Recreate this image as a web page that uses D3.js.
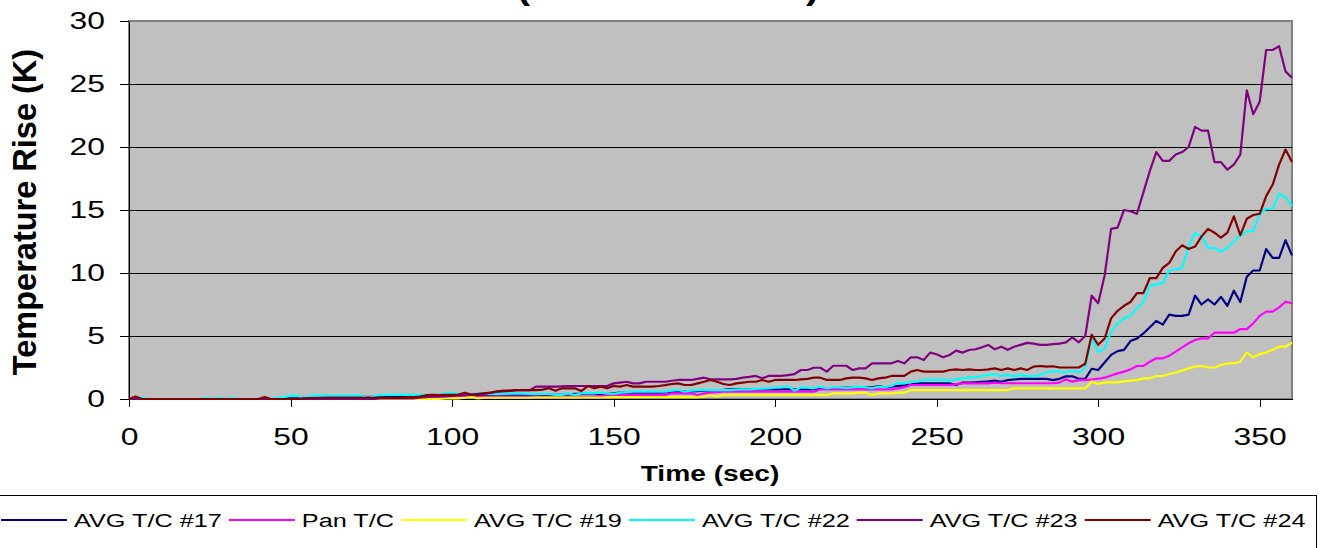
<!DOCTYPE html>
<html>
<head>
<meta charset="utf-8">
<script src="https://cdn.jsdelivr.net/npm/d3@7"></script>
<style>
    body { margin: 0; background: #fff; }
    svg { display: block; }
    text { font-family: "Liberation Sans", Arial, sans-serif; fill: #000; }
</style>
</head>
<body>
<svg id="chart" width="1321" height="548"></svg>
<script>

// sample times (sec), one reading every 2 s
var times = d3.range(0, 361, 2);

var xTicks = [0, 50, 100, 150, 200, 250, 300, 350];
var yTicks = [0, 5, 10, 15, 20, 25, 30];

var seriesNames = ["AVG T/C #17", "Pan T/C", "AVG T/C #19", "AVG T/C #22", "AVG T/C #23", "AVG T/C #24"];
var seriesColors = ["#000080", "#ff00ff", "#ffff00", "#00ffff", "#800080", "#800000"];

// temperature rise (K), rows of 10 readings = 20 s each
var tc17 = [
    0,0,0,0,0,0,0,0,0,0,
    0,0,0,0,0,0,0,0,0,0,
    0,0,0,0,0.05,0.05,0.05,0.1,0.1,0.1,
    0.15,0.15,0.15,0.2,0.2,0.2,0.2,0.15,0.2,0.2,
    0.2,0.2,0.2,0.2,0.2,0.2,0.25,0.25,0.25,0.25,
    0.25,0.25,0.3,0.3,0.3,0.3,0.3,0.3,0.3,0.3,
    0.3,0.3,0.3,0.3,0.3,0.32,0.32,0.32,0.35,0.4,
    0.4,0.4,0.4,0.4,0.4,0.45,0.5,0.5,0.5,0.5,
    0.5,0.5,0.5,0.52,0.55,0.58,0.58,0.6,0.62,0.66,
    0.66,0.7,0.72,0.77,0.77,0.77,0.77,0.77,0.77,0.77,
    0.77,0.77,0.77,0.77,0.77,0.77,0.77,0.8,0.82,0.85,
    0.88,0.9,0.93,0.93,0.93,0.93,1.03,0.93,0.98,1.03,
    1.08,1.15,1.24,1.24,1.24,1.24,1.24,1.24,1.11,1.3,
    1.3,1.33,1.37,1.4,1.46,1.37,1.5,1.55,1.6,1.6,
    1.6,1.6,1.6,1.5,1.6,1.8,1.8,1.6,1.6,2.4,
    2.3,2.9,3.5,3.8,3.9,4.6,4.8,5.2,5.7,6.2,
    5.9,6.7,6.6,6.6,6.7,8.2,7.5,7.9,7.5,8.1,
    7.4,8.6,7.7,9.7,10.2,10.2,11.9,11.2,11.2,12.6,
    11.4
];
var panTC = [
    0,0,0,0,0,0,0,0,0,0,
    0,0,0,0,0,0,0,0,0,0,
    0,0,0,0,0,0,0,0,0,0,
    0,0,0,0,0,0,0,0,0,0,
    0,0,0,0,0.05,0.1,0.1,0.15,0.15,0.15,
    0.2,0.2,0.2,0.2,0.2,0.2,0.2,0.2,0.2,0.2,
    0.2,0.2,0.2,0.2,0.2,0.2,0.2,0.2,0.2,0.2,
    0.2,0.2,0.2,0.25,0.3,0.32,0.32,0.32,0.32,0.32,
    0.32,0.32,0.32,0.32,0.45,0.45,0.45,0.45,0.32,0.45,
    0.5,0.55,0.58,0.58,0.58,0.58,0.58,0.58,0.58,0.58,
    0.58,0.58,0.58,0.58,0.58,0.58,0.58,0.77,0.77,0.77,
    0.77,0.77,0.77,0.77,0.77,0.77,0.77,0.77,0.77,0.85,
    0.93,1.11,1.11,1.11,1.11,1.11,1.11,1.11,1.18,1.24,
    1.24,1.24,1.24,1.24,1.3,1.25,1.25,1.25,1.25,1.25,
    1.25,1.25,1.25,1.25,1.3,1.56,1.38,1.5,1.5,1.55,
    1.61,1.69,1.87,2.03,2.17,2.35,2.62,2.62,2.96,3.23,
    3.23,3.44,3.76,4.1,4.42,4.68,4.81,4.81,5.26,5.26,
    5.26,5.26,5.55,5.55,6.0,6.6,6.93,6.93,7.27,7.72,
    7.6
];
var tc19 = [
    0,0,0,0,0,0,0,0,0,0,
    0,0,0,0,0,0,0,0,0,0,
    0,0.1,0,0,0,0,0,0,0,0,
    0,0,0,0.05,0.05,0.05,0,0,0,0,
    0,0,0,0,0,0,0,0,0,0.05,
    0.05,0.05,0.1,0.15,0.05,0.1,0.1,0.1,0.1,0.1,
    0.1,0.1,0.1,0.12,0.12,0.12,0.12,0.12,0.12,0.12,
    0.12,0.12,0.12,0.12,0.12,0.15,0.15,0.15,0.15,0.15,
    0.15,0.15,0.15,0.15,0.15,0.15,0.15,0.15,0.15,0.2,
    0.32,0.2,0.32,0.32,0.32,0.32,0.32,0.32,0.32,0.32,
    0.32,0.32,0.32,0.32,0.32,0.32,0.32,0.32,0.32,0.45,
    0.45,0.45,0.45,0.5,0.5,0.32,0.45,0.45,0.45,0.5,
    0.5,0.71,0.71,0.71,0.71,0.71,0.71,0.71,0.71,0.71,
    0.71,0.71,0.71,0.71,0.71,0.71,0.71,0.85,0.85,0.85,
    0.85,0.85,0.85,0.85,0.85,0.85,0.85,0.85,0.85,1.38,
    1.19,1.32,1.32,1.32,1.4,1.46,1.5,1.64,1.64,1.82,
    1.82,1.98,2.1,2.25,2.43,2.57,2.62,2.5,2.5,2.7,
    2.83,2.83,2.96,3.68,3.3,3.57,3.68,3.9,4.15,4.15,
    4.46
];
var tc22 = [
    0,0.12,0.12,0,0,0,0,0,0,0,
    0,0,0.1,0,0.1,0,0.1,0,0,0,
    0,0,0,0.1,0.15,0.26,0.26,0.1,0.26,0.26,
    0.26,0.26,0.26,0.26,0.26,0.26,0.26,0.1,0.26,0.3,
    0.32,0.32,0.32,0.32,0.32,0.32,0.32,0.32,0.32,0.45,
    0.45,0.4,0.32,0.4,0.45,0.45,0.4,0.38,0.4,0.42,
    0.45,0.42,0.4,0.38,0.4,0.4,0.32,0.32,0.45,0.32,
    0.45,0.45,0.45,0.5,0.45,0.4,0.5,0.55,0.58,0.58,
    0.58,0.58,0.58,0.58,0.66,0.71,0.58,0.66,0.71,0.71,
    0.71,0.71,0.71,0.71,0.74,0.77,0.77,0.8,0.82,0.85,
    0.9,0.93,1.03,0.66,0.93,0.9,0.85,0.98,0.85,0.93,
    0.93,0.88,0.93,0.98,0.93,0.85,0.98,0.93,1.03,1.3,
    1.24,1.37,1.37,1.51,1.51,1.51,1.56,1.46,1.56,1.64,
    1.72,1.72,1.83,1.91,1.98,1.83,1.91,1.8,1.91,1.83,
    1.8,1.91,2.1,2.2,2.2,2.1,2.25,2.1,2.5,4.8,
    3.7,4.0,5.35,6.0,6.4,6.6,7.2,7.7,9.0,9.1,
    9.2,10.2,10.3,10.4,12.1,13.2,12.9,12.0,12.0,11.7,
    12.0,12.5,13.0,13.3,13.35,14.7,15.1,15.1,16.3,16.0,
    15.3
];
var tc23 = [
    0,0,0,0,0,0,0,0,0,0,
    0,0,0,0,0,0,0,0,0,0,
    0,0,0,0,0,0,0,0,0,0,
    0,0,0,0,0,0,0,0,0,0.05,
    0.05,0.05,0.05,0.05,0.05,0.1,0.15,0.2,0.2,0.2,
    0.25,0.3,0.3,0.35,0.4,0.45,0.5,0.58,0.6,0.65,
    0.7,0.7,0.7,0.98,0.98,0.98,0.98,1.0,1.03,1.03,
    1.03,1.03,1.03,1.03,1.03,1.24,1.3,1.37,1.24,1.24,
    1.37,1.37,1.37,1.37,1.45,1.51,1.51,1.51,1.6,1.69,
    1.56,1.56,1.56,1.56,1.6,1.69,1.75,1.83,1.64,1.83,
    1.83,1.83,1.9,1.98,2.3,2.3,2.48,2.48,2.17,2.64,
    2.64,2.64,2.3,2.43,2.43,2.83,2.83,2.83,2.83,3.02,
    2.83,3.31,3.31,3.1,3.68,3.55,3.31,3.49,3.84,3.68,
    3.89,3.95,4.1,4.29,3.94,4.15,3.9,4.15,4.3,4.45,
    4.4,4.3,4.3,4.35,4.4,4.5,4.9,4.5,5.0,8.2,
    7.6,9.8,13.5,13.6,15.0,14.9,14.7,16.4,18.1,19.6,
    18.9,18.9,19.4,19.6,20.0,21.6,21.3,21.3,18.8,18.8,
    18.2,18.6,19.4,24.5,22.6,23.6,27.7,27.7,28.0,26.0,
    25.5
];
var tc24 = [
    0,0.19,0,0,0,0,0,0,0,0,
    0,0,0,0,0,0,0,0,0,0,
    0,0.15,0,0,0,0,0,0.05,0.08,0.08,
    0.08,0.1,0.1,0.1,0.1,0.1,0.1,0.1,0.1,0.1,
    0.1,0.1,0.1,0.15,0.15,0.2,0.3,0.32,0.3,0.32,
    0.32,0.35,0.5,0.35,0.35,0.45,0.5,0.6,0.66,0.66,
    0.7,0.7,0.7,0.71,0.75,0.85,0.66,0.85,0.85,0.85,
    0.63,1.03,0.85,0.98,0.85,1.03,0.98,1.11,0.98,0.98,
    0.98,0.98,1.03,1.1,1.19,1.24,1.11,1.11,1.24,1.37,
    1.51,1.37,1.19,1.11,1.24,1.3,1.37,1.37,1.51,1.37,
    1.51,1.51,1.51,1.51,1.56,1.6,1.69,1.69,1.51,1.51,
    1.51,1.64,1.69,1.69,1.64,1.51,1.64,1.69,1.83,1.83,
    1.83,2.17,2.3,2.17,2.17,2.17,2.17,2.3,2.35,2.3,
    2.35,2.3,2.3,2.35,2.43,2.3,2.43,2.3,2.43,2.3,
    2.57,2.62,2.57,2.6,2.5,2.5,2.5,2.5,2.8,5.1,
    4.3,4.8,6.4,7.0,7.4,7.7,8.4,8.4,9.6,9.6,
    10.4,10.8,11.7,12.2,11.9,12.1,12.9,13.5,13.2,12.8,
    13.2,14.5,13.0,14.3,14.6,14.7,16.1,17.0,18.6,19.8,
    18.8
];

var allSeries = [tc17, panTC, tc19, tc22, tc23, tc24];

// chart geometry
var plotLeft = 129, plotRight = 1292, plotTop = 21, plotBottom = 399;
var stretch = 1.3; //the original text is drawn wide

var svg = d3.select("#chart");

var x = d3.scaleLinear().domain([0, 360]).range([plotLeft, plotRight]);
var y = d3.scaleLinear().domain([0, 30]).range([plotBottom, plotTop]);

//title, mostly above the top of the picture
svg.append("text")
    .attr("transform", "translate(668,-1) scale(1.15,1)")
    .style("font-size", "34px")
    .style("font-weight", "bold")
    .style("text-anchor", "middle")
    .text("(Burner on Low)");

//plot area
svg.append("rect")
    .attr("x", plotLeft)
    .attr("y", plotTop)
    .attr("width", plotRight - plotLeft)
    .attr("height", plotBottom - plotTop)
    .attr("fill", "#c0c0c0")
    .attr("stroke", "#808080")
    .attr("stroke-width", 2);

//gridlines
svg.append("g")
    .attr("class", "grid")
    .selectAll("line")
    .data(yTicks.filter(function (d) { return d > 0 && d < 30; }))
    .enter()
    .append("line")
    .attr("x1", plotLeft)
    .attr("x2", plotRight)
    .attr("y1", function (d) { return y(d); })
    .attr("y2", function (d) { return y(d); })
    .attr("stroke", "#000")
    .attr("stroke-width", 1)
    .style("shape-rendering", "crispEdges");

//axes
var xAxis = svg.append("g")
    .attr("class", "axis axis--x")
    .attr("transform", "translate(0," + plotBottom + ")")
    .call(d3.axisBottom(x)
        .tickValues(xTicks)
        .tickSize(8)
        .tickSizeOuter(0));

xAxis.selectAll("text")
    .attr("y", null)
    .attr("transform", "translate(0,29) scale(" + stretch + ",1)")
    .style("font-size", "24.5px");

var yAxis = svg.append("g")
    .attr("class", "axis axis--y")
    .attr("transform", "translate(" + plotLeft + ",0)")
    .call(d3.axisLeft(y)
        .tickValues(yTicks)
        .tickSize(9)
        .tickSizeOuter(0));

yAxis.selectAll("text")
    .attr("x", null)
    .attr("transform", "translate(-24,0) scale(" + stretch + ",1)")
    .style("font-size", "24.5px");

svg.selectAll(".axis path, .axis line")
    .attr("stroke", "#000")
    .style("shape-rendering", "crispEdges");
svg.selectAll(".axis text").attr("fill", "#000");

//axis titles
svg.append("text")
    .attr("transform", "translate(36,212) rotate(-90)")
    .style("font-size", "32.5px")
    .style("font-weight", "bold")
    .style("text-anchor", "middle")
    .text("Temperature Rise (K)");

svg.append("text")
    .attr("transform", "translate(710,481) scale(1.28,1)")
    .style("font-size", "22px")
    .style("font-weight", "bold")
    .style("text-anchor", "middle")
    .text("Time (sec)");

//series lines, drawn in order so the last one sits on top
var line = d3.line()
    .x(function (d, i) { return x(times[i]); })
    .y(function (d) { return y(d); });

svg.append("g")
    .attr("class", "series")
    .selectAll("path")
    .data(allSeries)
    .enter()
    .append("path")
    .attr("d", line)
    .attr("fill", "none")
    .attr("stroke", function (d, i) { return seriesColors[i]; })
    .attr("stroke-width", 2.2)
    .attr("stroke-linejoin", "round");

//legend box, runs past the left and bottom edges
var legendTop = 495, legendRight = 1316;
var legendStretch = 1.33;

svg.append("clipPath")
    .attr("id", "legendclip")
    .append("rect")
    .attr("x", -2)
    .attr("y", legendTop)
    .attr("width", legendRight + 2)
    .attr("height", 80);

svg.append("rect")
    .attr("x", -1.5)
    .attr("y", legendTop + 0.5)
    .attr("width", legendRight + 2)
    .attr("height", 80)
    .attr("fill", "#fff")
    .attr("stroke", "#000")
    .attr("stroke-width", 1);

var legend = svg.append("g")
    .attr("clip-path", "url(#legendclip)");

var lx = 1;
seriesNames.forEach(function (name, i) {
    legend.append("line")
        .attr("x1", lx)
        .attr("x2", lx + 66)
        .attr("y1", 520)
        .attr("y2", 520)
        .attr("stroke", seriesColors[i])
        .attr("stroke-width", 2.2);

    var label = legend.append("text")
        .attr("transform", "translate(" + (lx + 73) + ",527) scale(" + legendStretch + ",1)")
        .style("font-size", "19px")
        .text(name);

    lx += 73 + label.node().getComputedTextLength() * legendStretch + 7;
});

</script>
</body>
</html>
